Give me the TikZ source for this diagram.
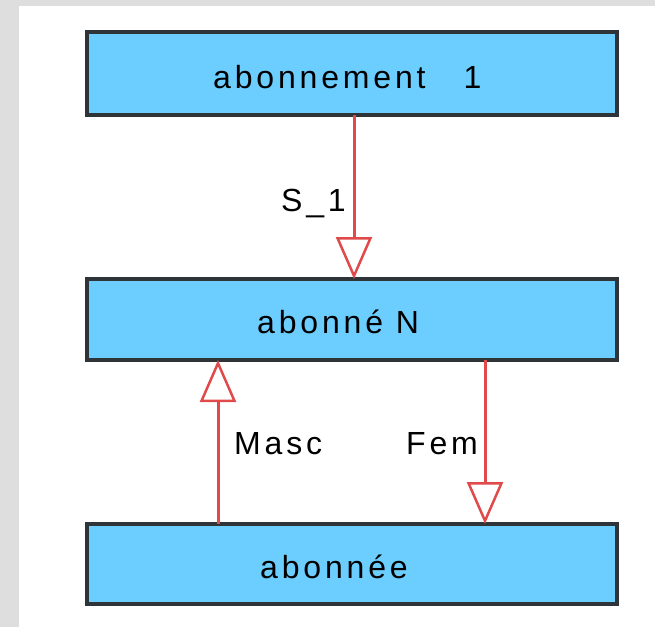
\documentclass[tikz,border=0pt]{standalone}
\usepackage{fontspec}
\setmainfont{Liberation Sans}[LetterSpace=12]
\usetikzlibrary{arrows.meta}
\definecolor{bgray}{HTML}{DEDEDE}
\definecolor{boxfill}{HTML}{6CCDFF}
\definecolor{boxline}{HTML}{2F3438}
\definecolor{connred}{HTML}{E04A4A}
\tikzset{
  entity/.style={draw=boxline, line width=4pt, fill=boxfill, minimum width=530pt, inner sep=0pt, outer sep=0pt},
  lbl/.style={anchor=base west, inner sep=0pt, font=\fontsize{32}{38}\selectfont, text=black},
  conn/.style={draw=connred, line width=3pt, -{Triangle[open, length=42pt, width=36pt, fill=white, line width=2.5pt]}},
}
\begin{document}
\begin{tikzpicture}[x=1pt, y=-1pt]
\useasboundingbox (0,0) rectangle (655,627);
\fill[bgray] (0,0) rectangle (655,627);
\fill[white] (19,6) rectangle (655,627);
\node[entity, minimum height=83pt] (b1) at (352,73.5) {};
\node[entity, minimum height=81pt] (b2) at (352,319.5) {};
\node[entity, minimum height=80pt] (b3) at (352,564) {};
\node[lbl] (t1) at (213,88) {abonnement\hspace{38pt}1};
\node[lbl] (t2) at (257,333) {abonné N};
\node[lbl] (t3) at (260,578) {abonnée};
\coordinate (x1) at (354,0);
\coordinate (x2) at (218,0);
\coordinate (x3) at (485,0);
\draw[conn] (b1.south -| x1) -- (b2.north -| x1);
\draw[conn] (b3.north -| x2) -- (b2.south -| x2);
\draw[conn] (b2.south -| x3) -- (b3.north -| x3);
\node[lbl] (l1) at (281,211) {S\_1};
\node[lbl] (l2) at (234,454) {Masc};
\node[lbl] (l3) at (406,454) {Fem};
\end{tikzpicture}
\end{document}
